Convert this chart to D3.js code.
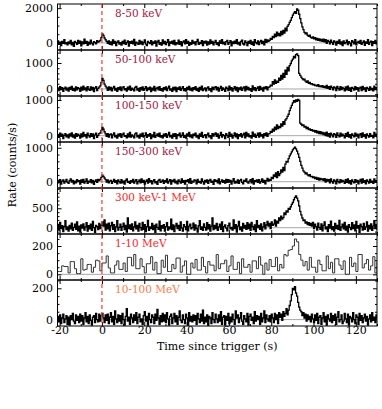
<!doctype html>
<html>
  <head>
    <meta charset="utf-8">
    <script src="https://cdnjs.cloudflare.com/ajax/libs/d3/7.8.5/d3.min.js"></script>
    <style>
      body { margin: 0; background: #fff; }
      svg { display: block; }
      text { font-family: "DejaVu Serif", serif; }
      .axis path.domain { display: none; }
      .axis line { stroke: #000; stroke-width: 1; }
      .axis text { font-size: 11px; fill: #000; font-family: "DejaVu Serif", serif; }
    </style>
  </head>
  <body>
    <svg id="chart" width="382" height="409"></svg>
    <script>
      // time grid: fine bins start at -21 s, 0.5 s wide; the 1-10 MeV band uses 1 s bins
      var tStart = -21;
      var fineBin = 0.5;
      var coarseBin = 1;

      var bandLabels = ["8-50 keV", "50-100 keV", "100-150 keV", "150-300 keV", "300 keV-1 MeV", "1-10 MeV", "10-100 MeV"];
      var labelColors = ["#a3173f", "#a3173f", "#a3173f", "#a3173f", "#ff2424", "#ff2424", "#ff7a45"];
      var yDomains = [[-410, 2240], [-270, 1500], [-177, 1112], [-185, 1170], [-162, 1023], [-40, 285], [-41, 253]];
      var yTickLabels = [[0, 2000], [0, 1000], [0, 1000], [0, 1000], [0, 500], [0, 200], [0, 200]];
      var yMinorStep = [500, 200, 200, 200, 100, 50, 50];
      var xTickLabels = [-20, 0, 20, 40, 60, 80, 100, 120];

      // 8-50 keV, 0.5 s bins
      var rate8to50 = [
        120,-80,40,-150,90,-30,180,-60,20,-120,
        60,-40,150,-110,30,-200,80,10,-90,140,
        -20,100,-170,50,-60,210,-30,90,-140,40,
        -70,160,-10,-120,70,20,-50,130,40,90,
        150,300,520,430,280,180,90,-30,120,-80,
        50,-110,170,-20,80,-160,30,110,-70,20,
        -130,90,-40,160,-90,10,120,-180,70,-20,
        100,-60,200,-140,40,-10,-90,150,-50,80,
        -100,30,170,-70,-160,90,20,-40,130,-110,
        60,-20,110,-190,50,140,-80,10,-130,170,
        -40,80,-100,30,190,-150,60,-20,100,-70,
        140,-110,20,-50,160,-90,70,-170,40,110,
        -60,180,-30,90,-140,10,-80,150,-20,60,
        -120,70,200,-90,30,-40,130,-160,80,-10,
        100,-130,50,-70,170,-20,90,-110,30,140,
        -80,20,-150,110,-30,180,-60,40,-100,70,
        150,-90,10,130,-170,60,-40,100,-20,190,
        -70,30,-130,80,160,-50,-110,120,20,-160,
        90,-30,140,-80,50,-140,190,10,-60,120,
        -100,60,150,-40,80,-120,200,30,170,90,
        150,260,200,380,310,500,360,620,420,540,
        400,660,480,720,560,850,700,950,1050,1180,
        1300,1450,1600,1720,1800,1700,1960,1880,1650,1400,
        1150,920,760,610,520,580,430,380,450,320,
        280,350,230,300,180,260,150,230,120,200,
        90,210,60,180,-20,140,70,-60,160,30,
        -90,120,40,-130,90,-20,170,-70,60,-150,
        110,-40,20,160,-100,70,-10,-170,130,50,
        -60,190,-120,30,90,-30,150,-90,10,120,
        -140,60,-20,180,-80,40,100,-160,70,-30,
        140,-60,80
      ];

      // 50-100 keV
      var rate50to100 = [
        40,-60,90,-20,50,-90,10,70,-40,30,
        -80,60,-10,100,-50,20,-70,80,-30,50,
        10,-90,70,-40,110,-20,40,-70,90,-10,
        -50,80,-30,60,-100,30,90,-60,20,70,
        120,250,410,330,190,110,40,-50,80,-30,
        60,-70,30,100,-40,20,-90,50,-20,80,
        -60,40,90,-30,10,-80,70,-20,110,-50,
        30,-10,-70,60,100,-40,20,-90,50,-30,
        80,-50,10,90,-60,40,-20,70,-100,30,
        -40,100,-70,20,60,-30,90,-50,10,-80,
        50,-20,80,-60,30,110,-40,0,-90,60,
        -30,70,-100,40,-10,80,-50,20,90,-60,
        10,-80,60,-20,100,-40,30,-70,50,-10,
        90,-50,20,-90,60,-30,110,-60,0,40,
        -70,30,80,-40,10,-100,70,-20,50,90,
        -30,60,-80,20,100,-50,40,-10,-90,70,
        20,-60,110,-30,50,-80,10,90,-40,60,
        -100,40,-20,70,-50,30,80,-70,100,-20,
        60,-40,10,-90,120,-30,50,-60,20,80,
        -50,100,-20,40,-80,70,10,90,-30,60,
        80,150,120,280,190,350,220,300,260,420,
        330,520,380,600,450,720,560,830,700,900,
        980,1080,1150,1250,1200,1320,1350,1280,600,520,
        460,400,350,380,300,260,310,220,250,190,
        210,160,180,130,150,110,170,90,120,80,
        130,60,100,40,140,20,90,-10,110,50,
        -30,80,40,-60,100,20,-40,90,-20,60,
        10,-70,80,-30,110,-50,40,-90,60,20,
        -40,90,-10,50,-80,30,70,-60,100,-20,
        40,-90,60,10,-50,80,-30,20,-70,110,
        -20,50,-60
      ];

      // 100-150 keV
      var rate100to150 = [
        30,-50,70,-20,40,-80,10,60,-30,20,
        -60,50,-10,80,-40,20,-70,60,-20,40,
        10,-70,50,-30,90,-10,30,-60,70,0,
        -40,60,-20,50,-80,20,70,-50,10,60,
        80,150,230,180,110,50,-20,60,-40,30,
        50,-60,20,80,-30,10,-70,40,-10,60,
        -50,30,70,-20,0,-60,50,-30,90,-40,
        20,-10,-60,50,80,-30,10,-70,40,-20,
        70,-40,0,80,-50,30,-10,60,-80,20,
        -30,90,-50,10,50,-20,70,-40,0,-60,
        40,-10,60,-50,20,90,-30,10,-70,50,
        -20,60,-80,30,0,70,-40,10,80,-50,
        10,-70,50,-10,90,-30,20,-60,40,0,
        70,-40,10,-80,50,-20,90,-50,0,30,
        -60,20,70,-30,0,-80,60,-10,40,80,
        -20,50,-70,10,90,-40,30,0,-80,60,
        10,-50,90,-20,40,-70,0,80,-30,50,
        -80,30,-10,60,-40,20,70,-60,90,-10,
        50,-30,0,-70,100,-20,40,-50,10,70,
        -40,80,-10,30,-60,60,0,80,-20,50,
        60,120,90,180,130,240,170,300,200,260,
        230,330,270,390,320,440,480,540,600,700,
        780,850,920,980,940,1000,960,1020,990,350,
        320,280,300,240,260,200,230,170,190,150,
        170,130,150,100,140,80,120,60,110,50,
        90,30,80,0,100,-10,60,-40,70,20,
        -30,60,30,-50,80,10,-30,70,-10,40,
        0,-60,60,-20,90,-40,30,-70,50,10,
        -30,70,-10,40,-60,20,60,-50,80,-20,
        30,-70,50,0,-40,60,-20,10,-60,90,
        -10,40,-50
      ];

      // 150-300 keV
      var rate150to300 = [
        40,-30,60,-70,20,50,-40,10,70,-20,
        -50,30,80,-10,40,-60,20,-30,60,0,
        30,-70,50,-20,70,-40,10,80,-50,20,
        -10,60,-30,40,-80,10,50,-20,70,30,
        70,130,190,160,110,60,-10,50,-30,20,
        40,-50,10,70,-20,30,-60,50,0,-40,
        60,-30,20,-70,40,80,-20,10,-50,30,
        -10,70,-40,20,60,-60,0,50,-30,80,
        -20,40,-70,10,50,-40,90,-10,30,-60,
        20,60,-30,0,-80,40,70,-20,10,50,
        -50,30,-10,80,-40,20,60,-70,40,0,
        70,-30,20,-60,50,10,-40,80,-20,30,
        -70,40,0,60,-30,90,-50,20,-10,50,
        30,-60,70,-20,10,-40,80,0,-70,40,
        -10,50,-50,30,70,-20,20,-80,60,10,
        40,-30,80,-60,0,50,-20,30,-40,70,
        -20,60,-10,40,-70,20,90,-40,10,-30,
        50,-50,30,70,-20,-60,40,10,80,-10,
        -40,20,60,-30,90,-70,30,0,50,-20,
        60,-40,10,80,-20,40,-60,30,100,20,
        70,40,130,90,200,150,260,120,300,180,
        240,350,280,420,330,520,600,580,680,760,
        820,880,940,980,1020,970,900,820,720,600,
        480,400,320,280,230,260,200,170,210,150,
        160,120,140,90,130,70,110,50,100,60,
        80,30,90,-10,70,20,60,-30,80,10,
        -40,50,20,-60,70,0,-30,60,-10,40,
        10,-50,60,-20,80,-40,30,-70,50,0,
        -30,60,-10,40,-60,20,70,-40,80,-20,
        30,-60,50,10,-40,70,-20,20,-50,80,
        -10,30,-40
      ];

      // 300 keV - 1 MeV
      var rate300to1000 = [
        80,-60,140,-20,50,-100,30,180,-50,20,
        -90,60,-30,120,-70,10,90,-40,150,-80,
        40,-110,70,-10,100,-60,20,130,-90,50,
        -30,90,-70,160,0,-120,60,30,-50,110,
        -20,70,150,40,200,-60,90,-30,120,-80,
        50,140,-40,80,-100,20,180,-60,10,90,
        -70,30,120,-50,60,-110,250,-20,70,-40,
        100,-80,20,150,-30,60,-90,110,0,-60,
        140,-40,80,-100,30,190,-70,20,-20,110,
        -50,60,-120,90,10,-40,170,-80,50,-10,
        80,-90,30,130,-60,20,-30,220,-50,70,
        -100,40,110,-20,60,-70,150,-10,-90,80,
        30,-50,160,-80,40,90,-30,0,120,-60,
        70,-20,-110,50,180,-40,20,-70,100,10,
        -60,130,-30,80,-90,40,250,-50,60,-20,
        110,-70,20,90,-40,150,-100,30,70,-10,
        -80,50,120,-30,10,-60,200,-20,80,-110,
        40,160,-50,20,-90,110,-10,60,-40,130,
        -20,90,-70,140,30,-50,70,-100,180,0,
        60,-40,100,-80,20,130,-30,70,160,40,
        110,-20,150,60,90,200,40,170,120,250,
        180,300,220,260,380,340,430,400,500,470,
        540,600,650,720,780,820,760,690,560,420,
        330,250,180,200,120,150,80,130,60,110,
        40,140,-20,90,30,-60,120,10,-40,100,
        -80,60,150,-30,20,-100,80,-10,170,-50,
        30,-90,110,-20,60,-40,190,-70,20,90,
        -30,140,-60,40,-110,80,10,-50,130,-20,
        70,-80,160,-10,50,-120,90,30,-60,110,
        -40,20,150,-90,60,-30,100,-70,40,180,
        -20,70,-60
      ];

      // 1-10 MeV, 1 s bins
      var rate1to10MeV = [
        20,20,60,55,55,10,90,90,40,5,
        5,110,30,35,70,70,15,50,100,95,
        25,80,80,130,45,10,10,65,95,35,
        35,80,20,120,120,60,140,40,40,110,
        55,10,75,75,125,30,85,5,5,100,
        50,135,20,20,70,40,115,115,15,60,
        95,0,0,80,45,105,30,30,120,55,
        10,90,65,65,25,140,40,75,75,100,
        20,60,130,35,35,85,5,110,50,50,
        70,15,95,95,40,125,65,0,80,30,
        105,55,55,120,25,70,45,140,130,170,
        175,200,250,230,140,100,60,90,30,120,
        50,50,15,100,70,25,25,130,40,85,
        10,110,110,65,35,95,0,0,120,55,
        80,20,140,140,45,75,105,30,60,125,
        10,90
      ];

      // 10-100 MeV
      var rate10to100MeV = [
        20,-15,30,-25,10,35,-20,5,25,-30,
        15,-35,25,0,40,-10,-25,30,-5,20,
        -20,35,-10,25,-30,10,45,-15,20,-25,
        30,-5,-35,15,25,-20,40,0,-15,35,
        -10,25,40,10,-20,30,-5,35,-25,15,
        45,-15,20,-30,55,5,-20,30,-10,25,
        -25,40,0,-35,20,70,-10,15,-30,35,
        10,-20,30,-5,45,-25,15,35,-15,5,
        -30,25,50,-10,20,-35,40,0,-20,30,
        15,-25,35,-5,65,10,-30,25,-15,40,
        -10,30,-20,45,5,-35,20,35,-25,10,
        40,-15,25,-30,15,55,-5,-20,30,0,
        -25,35,10,-35,45,-10,20,-15,30,-5,
        25,-30,40,5,-20,35,-10,60,-25,15,
        -15,30,-35,20,10,-25,45,0,-20,35,
        5,-20,30,-10,50,-30,15,25,-35,20,
        -5,40,-25,15,-15,35,0,-30,55,10,
        30,-20,10,45,-10,-30,25,5,-15,40,
        -35,20,35,-5,15,-25,50,-10,25,0,
        20,-30,40,-15,10,55,-20,30,5,-10,
        25,-15,35,10,-20,40,0,30,-25,45,
        15,35,-5,50,20,40,70,30,60,90,
        120,160,200,190,210,170,150,110,80,60,
        50,25,45,10,35,-10,30,0,20,-15,
        35,5,-20,30,-5,40,-25,15,25,-30,
        10,45,-15,20,-35,30,5,-10,40,-20,
        25,-5,35,-30,15,50,-15,0,30,-25,
        -10,40,5,-20,35,-35,20,10,-15,45,
        0,-25,30,15,-30,40,-5,25,-20,10,
        35,-10,20,-35,5,30,-15,45,-5,15,
        -20,30,5
      ];

      var bandRates = [rate8to50, rate50to100, rate100to150, rate150to300, rate300to1000, rate1to10MeV, rate10to100MeV];
      var bandBins = [fineBin, fineBin, fineBin, fineBin, fineBin, coarseBin, fineBin];

      var plotLeft = 57.5, plotRight = 377, plotTop = 4, panelH = 46;
      var nPanels = bandLabels.length;

      var svg = d3.select("#chart");

      var x = d3.scaleLinear().domain([-21, 130]).range([plotLeft, plotRight]);
      var xMajor = xTickLabels;
      var xMinor = d3.range(-10, 131, 20);
      var plainNum = function(d) { return String(d); };

      bandLabels.forEach(function(label, k) {
        var y0 = plotTop + k * panelH;
        var y = d3.scaleLinear().domain(yDomains[k]).range([y0 + panelH, y0]);
        var g = svg.append("g");
        var bin = bandBins[k];
        var pts = bandRates[k].map(function(v, i) { return [tStart + i * bin, v]; });

        g.append("clipPath").attr("id", "clip" + k)
          .append("rect").attr("x", plotLeft).attr("y", y0).attr("width", plotRight - plotLeft).attr("height", panelH);

        // zero line
        g.append("line")
          .attr("x1", plotLeft).attr("x2", plotRight)
          .attr("y1", y(0)).attr("y2", y(0))
          .attr("stroke", "#a8a8a8").attr("stroke-width", 1);

        var line = d3.line()
          .x(function(d) { return x(d[0]); })
          .y(function(d) { return y(d[1]); })
          .curve(d3.curveStepAfter);

        g.append("path")
          .datum(pts)
          .attr("clip-path", "url(#clip" + k + ")")
          .attr("d", line)
          .attr("fill", "none")
          .attr("stroke", k == 5 ? "#333" : "#000")
          .attr("stroke-width", k == 5 ? 1 : 1.3);

        // y axes, ticks pointing inward
        var minorVals = d3.range(Math.ceil(yDomains[k][0] / yMinorStep[k]) * yMinorStep[k], yDomains[k][1], yMinorStep[k])
          .filter(function(v) { return yTickLabels[k].indexOf(v) < 0; });

        g.append("g").attr("class", "axis").attr("transform", "translate(" + plotLeft + ",0)")
          .call(d3.axisLeft(y).tickValues(yTickLabels[k]).tickSize(-4).tickPadding(4.5).tickFormat(plainNum));
        g.append("g").attr("class", "axis").attr("transform", "translate(" + plotLeft + ",0)")
          .call(d3.axisLeft(y).tickValues(minorVals).tickSize(-2).tickFormat(""));
        g.append("g").attr("class", "axis").attr("transform", "translate(" + plotRight + ",0)")
          .call(d3.axisRight(y).tickValues(yTickLabels[k]).tickSize(-4).tickFormat(""));
        g.append("g").attr("class", "axis").attr("transform", "translate(" + plotRight + ",0)")
          .call(d3.axisRight(y).tickValues(minorVals).tickSize(-2).tickFormat(""));

        // x ticks top and bottom of each panel
        g.append("g").attr("class", "axis").attr("transform", "translate(0," + y0 + ")")
          .call(d3.axisTop(x).tickValues(xMajor).tickSize(-4).tickFormat(""));
        g.append("g").attr("class", "axis").attr("transform", "translate(0," + y0 + ")")
          .call(d3.axisTop(x).tickValues(xMinor).tickSize(-2).tickFormat(""));
        var bottomAxis = d3.axisBottom(x).tickValues(xMajor).tickSize(-4).tickPadding(0.5).tickFormat(plainNum);
        if (k < nPanels - 1) bottomAxis.tickFormat("");
        g.append("g").attr("class", "axis").attr("transform", "translate(0," + (y0 + panelH) + ")")
          .call(bottomAxis);
        g.append("g").attr("class", "axis").attr("transform", "translate(0," + (y0 + panelH) + ")")
          .call(d3.axisBottom(x).tickValues(xMinor).tickSize(-2).tickFormat(""));

        // frame
        g.append("rect")
          .attr("x", plotLeft).attr("y", y0).attr("width", plotRight - plotLeft).attr("height", panelH)
          .attr("fill", "none").attr("stroke", "#000").attr("stroke-width", 1);

        g.append("text")
          .attr("x", 115).attr("y", y0 + 13)
          .attr("fill", labelColors[k])
          .style("font-size", "10.5px")
          .text(label);
      });

      // trigger time
      svg.append("line")
        .attr("x1", x(0)).attr("x2", x(0))
        .attr("y1", plotTop).attr("y2", plotTop + nPanels * panelH)
        .attr("stroke", "#ff3535").attr("stroke-width", 1.2)
        .attr("stroke-dasharray", "4,3");

      svg.append("text")
        .attr("x", (plotLeft + plotRight) / 2).attr("y", 349.5)
        .attr("text-anchor", "middle")
        .style("font-size", "11px")
        .text("Time since trigger (s)");

      svg.append("text")
        .attr("transform", "translate(16,165) rotate(-90)")
        .attr("text-anchor", "middle")
        .style("font-size", "11px")
        .text("Rate (counts/s)");
    </script>
  </body>
</html>
